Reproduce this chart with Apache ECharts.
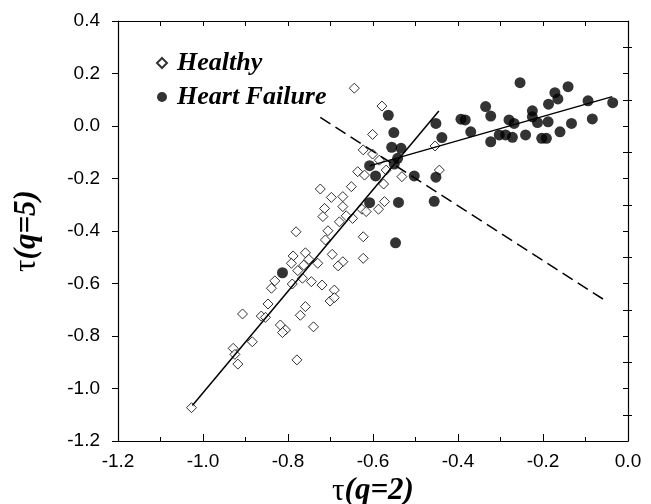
<!DOCTYPE html>
<html>
<head>
<meta charset="utf-8">
<script src="https://cdn.jsdelivr.net/npm/echarts@6/dist/echarts.min.js"></script>
<style>
  html, body { margin: 0; padding: 0; background: #fff; }
  #main { width: 651px; height: 504px; }
</style>
</head>
<body>
<div id="main"></div>
<script>
// tau(q=2), tau(q=5) pairs
const healthy = [
  [-0.644, 0.144], [-0.623, -0.091], [-0.636, -0.174], [-0.620, -0.187],
  [-0.724, -0.240], [-0.698, -0.272], [-0.671, -0.269], [-0.651, -0.231],
  [-0.714, -0.314], [-0.718, -0.345], [-0.671, -0.307], [-0.663, -0.342],
  [-0.648, -0.352], [-0.626, -0.317], [-0.679, -0.365], [-0.706, -0.399],
  [-0.781, -0.403], [-0.623, -0.422], [-0.579, 0.076], [-0.601, -0.032],
  [-0.601, -0.107], [-0.585, -0.130], [-0.569, -0.168], [-0.575, -0.221],
  [-0.532, -0.193], [-0.454, -0.076], [-0.444, -0.168], [-0.573, -0.288],
  [-0.587, -0.317], [-0.616, -0.326], [-0.712, -0.434], [-0.623, -0.504],
  [-0.788, -0.495], [-0.759, -0.483], [-0.792, -0.523], [-0.751, -0.508],
  [-0.763, -0.530], [-0.777, -0.551], [-0.730, -0.523], [-0.696, -0.489],
  [-0.671, -0.517], [-0.682, -0.533], [-0.766, -0.580], [-0.745, -0.593],
  [-0.790, -0.602], [-0.720, -0.606], [-0.831, -0.590], [-0.839, -0.618],
  [-0.691, -0.625], [-0.701, -0.667], [-0.691, -0.654], [-0.847, -0.678],
  [-0.759, -0.688], [-0.771, -0.721], [-0.863, -0.724], [-0.853, -0.729],
  [-0.907, -0.716], [-0.740, -0.765], [-0.818, -0.758], [-0.806, -0.777],
  [-0.813, -0.787], [-0.884, -0.822], [-0.929, -0.847], [-0.925, -0.870],
  [-0.918, -0.907], [-0.779, -0.891], [-1.027, -1.073]
]

const heartFailure = [
  [-0.564, 0.041], [-0.551, -0.025], [-0.556, -0.081], [-0.534, -0.085],
  [-0.542, -0.123], [-0.550, -0.145], [-0.608, -0.151], [-0.594, -0.190],
  [-0.503, -0.190], [-0.452, -0.195], [-0.608, -0.292], [-0.540, -0.291],
  [-0.456, -0.287], [-0.452, 0.010], [-0.438, -0.044], [-0.393, 0.026],
  [-0.383, 0.023], [-0.370, -0.022], [-0.335, 0.074], [-0.323, 0.038],
  [-0.323, -0.060], [-0.303, -0.034], [-0.288, -0.034], [-0.280, 0.023],
  [-0.268, 0.010], [-0.272, -0.043], [-0.254, 0.165], [-0.241, -0.034],
  [-0.225, 0.058], [-0.225, 0.035], [-0.213, 0.013], [-0.203, -0.047],
  [-0.192, -0.047], [-0.188, 0.016], [-0.187, 0.083], [-0.172, 0.127],
  [-0.165, 0.103], [-0.160, -0.022], [-0.141, 0.150], [-0.133, 0.010],
  [-0.094, 0.096], [-0.084, 0.027], [-0.036, 0.089], [-0.547, -0.445],
  [-0.813, -0.559]
]

// fitted lines and the separating dashed line
const healthyFit = [[-1.025, -1.065], [-0.445, 0.057]]
const failureFit = [[-0.608, -0.152], [-0.037, 0.112]]
const divider = [[-0.724, 0.033], [-0.058, -0.660]]

const fmt = v => v.toFixed(1)
const black = '#000'

// axis title: upright tau, bold italic argument
const titleRich = {
  t: { fontFamily: 'Liberation Serif', fontSize: 31, color: black },
  q: { fontFamily: 'Liberation Serif', fontSize: 31, fontWeight: 'bold', fontStyle: 'italic', color: black }
}

const option = {
  animation: false,
  grid: { left: 118, right: 23, top: 21, bottom: 63, outerBoundsMode: 'none' },
  legend: {
    orient: 'vertical',
    left: 151,
    top: 45,
    itemWidth: 10,
    itemHeight: 10,
    itemGap: 8,
    textStyle: {
      fontFamily: 'Liberation Serif',
      fontWeight: 'bold',
      fontStyle: 'italic',
      fontSize: 26,
      color: black,
      padding: [0, 0, 0, 5]
    },
    data: ['Healthy', 'Heart Failure']
  },
  xAxis: [
    {
      type: 'value', min: -1.2, max: 0, interval: 0.2,
      name: '{t|τ}{q|(q=2)}', nameLocation: 'middle', nameGap: 31,
      nameTextStyle: { rich: titleRich },
      axisLine: { onZero: false, lineStyle: { color: black, width: 1.2 } },
      axisTick: { inside: true, length: 7, lineStyle: { color: black } },
      minorTick: { show: true, splitNumber: 2, length: 4, lineStyle: { color: black } },
      axisLabel: { formatter: fmt, color: black, fontFamily: 'Liberation Sans', fontSize: 19, margin: 11 },
      splitLine: { show: false }
    },
    {
      type: 'value', min: -1.2, max: 0, interval: 0.1, position: 'top',
      axisLine: { show: true, onZero: false, lineStyle: { color: black, width: 1.2 } },
      axisTick: { show: true, inside: true, length: 5, lineStyle: { color: black } },
      axisLabel: { show: false },
      splitLine: { show: false }
    }
  ],
  yAxis: [
    {
      type: 'value', min: -1.2, max: 0.4, interval: 0.2,
      name: '{t|τ}{q|(q=5)}', nameLocation: 'middle', nameGap: 76,
      nameTextStyle: { rich: titleRich },
      axisLine: { show: true, onZero: false, lineStyle: { color: black, width: 1.2 } },
      axisTick: { show: true, inside: false, length: 6, lineStyle: { color: black } },
      axisLabel: { formatter: fmt, color: black, fontFamily: 'Liberation Sans', fontSize: 19, margin: 18 },
      splitLine: { show: false }
    },
    {
      // inner minor ticks on the left side
      type: 'value', min: -1.2, max: 0.4, interval: 0.2, position: 'left',
      axisLine: { show: false },
      axisTick: { show: false, inside: true },
      minorTick: { show: true, splitNumber: 2, length: 4, lineStyle: { color: black } },
      axisLabel: { show: false },
      splitLine: { show: false }
    },
    {
      type: 'value', min: -1.2, max: 0.4, interval: 0.1, position: 'right',
      axisLine: { show: true, onZero: false, lineStyle: { color: black, width: 1.2 } },
      axisTick: { show: true, inside: true, length: 5, lineStyle: { color: black } },
      axisLabel: { show: false },
      splitLine: { show: false }
    }
  ],
  series: [
    {
      name: 'Healthy',
      type: 'scatter',
      symbol: 'diamond',
      symbolSize: 10,
      itemStyle: { color: '#fff', borderColor: black, borderWidth: 1 },
      data: healthy,
      z: 2
    },
    {
      name: 'Heart Failure',
      type: 'scatter',
      symbol: 'circle',
      symbolSize: 11,
      itemStyle: { color: black },
      data: heartFailure,
      z: 3
    },
    {
      type: 'line', data: healthyFit, symbol: 'none', z: 5,
      lineStyle: { color: black, width: 1.5 }
    },
    {
      type: 'line', data: failureFit, symbol: 'none', z: 5,
      lineStyle: { color: black, width: 1.5 }
    },
    {
      type: 'line', data: divider, symbol: 'none', z: 5,
      lineStyle: { color: black, width: 1.5, type: [12, 6] }
    }
  ]
}

var myChart = echarts.init(document.getElementById('main'))
myChart.setOption(option)
</script>
</body>
</html>
